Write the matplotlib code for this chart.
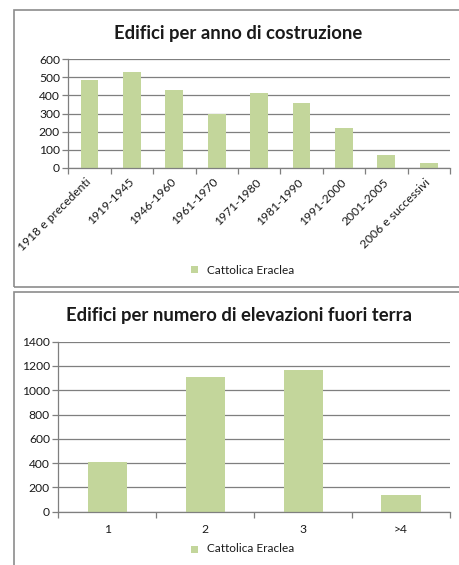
import matplotlib
matplotlib.use("Agg")
import matplotlib.pyplot as plt
from matplotlib.patches import Rectangle
from matplotlib.ticker import FixedLocator, MultipleLocator

plt.rcParams['font.family'] = ['Lato', 'DejaVu Sans']

# ---- data ----
anni_labels = ["1918 e precedenti", "1919-1945", "1946-1960", "1961-1970",
               "1971-1980", "1981-1990", "1991-2000", "2001-2005", "2006 e successivi"]
anni_values = [485, 531, 430, 295, 412, 360, 221, 70, 28]

elev_labels = ["1", "2", "3", ">4"]
elev_values = [410, 1108, 1167, 140]

series_name = "Cattolica Eraclea"
title1 = "Edifici per anno di costruzione"
title2 = "Edifici per numero di elevazioni fuori terra"

BAR = "#c3d69b"
GRID = "#7f7f7f"
TXT = "#1a1a1a"

W, H = 460, 565
fig = plt.figure(figsize=(W / 100, H / 100), dpi=100)
fig.patch.set_facecolor("white")

def fx(px):
    return px / W

def fy(py):
    return 1 - py / H

# panel borders
fig.add_artist(Rectangle((fx(14), fy(287)), fx(470), (287 - 10) / H, transform=fig.transFigure,
                         fill=False, edgecolor="#8c8c8c", linewidth=1.2))
fig.add_artist(Rectangle((fx(14), fy(580)), fx(470), (580 - 292) / H, transform=fig.transFigure,
                         fill=False, edgecolor="#8c8c8c", linewidth=1.2))


def style_axes(ax, ymax, ystep, n):
    ax.set_ylim(0, ymax)
    ax.set_xlim(-0.5, n - 0.5)
    ax.yaxis.set_major_locator(MultipleLocator(ystep))
    ax.grid(axis="y", color=GRID, linewidth=0.9)
    ax.set_axisbelow(True)
    for s in ("top", "right"):
        ax.spines[s].set_visible(False)
    for s in ("left", "bottom"):
        ax.spines[s].set_color(GRID)
        ax.spines[s].set_linewidth(0.9)
    ax.tick_params(axis="y", length=4, color=GRID, width=0.9, labelsize=8.7, labelcolor=TXT, pad=2)
    ax.xaxis.set_minor_locator(FixedLocator([i - 0.5 for i in range(n + 1)]))
    ax.tick_params(axis="x", which="minor", length=4, color=GRID, width=0.9)
    ax.tick_params(axis="x", which="major", length=0, labelsize=8.7, labelcolor=TXT)


# ---- top chart ----
ax1 = fig.add_axes([fx(68.3), fy(167.7), (450 - 68.3) / W, (167.7 - 59.3) / H])
x1 = list(range(len(anni_labels)))
ax1.bar(x1, anni_values, width=0.42, color=BAR, zorder=2)
style_axes(ax1, 600, 100, len(anni_labels))
ax1.set_xticks(x1)
ax1.set_xticklabels(anni_labels, rotation=45, ha="right", va="center", rotation_mode="anchor")
ax1.tick_params(axis="x", which="major", pad=9)
for lab in ax1.get_xticklabels():
    lab.set_x(lab.get_position()[0])
fig.text(fx(238), fy(33), title1, ha="center", va="center", fontsize=13.3, fontweight="bold", color=TXT)

# legend top
fig.add_artist(Rectangle((fx(191), fy(273.5)), fx(7), 7 / H, transform=fig.transFigure,
                         facecolor=BAR, edgecolor="none"))
fig.text(fx(207), fy(270), series_name, ha="left", va="center", fontsize=8.5, color=TXT)

# ---- bottom chart ----
ax2 = fig.add_axes([fx(58.3), fy(511.7), (450 - 58.3) / W, (511.7 - 341.7) / H])
x2 = list(range(len(elev_labels)))
ax2.bar(x2, elev_values, width=0.40, color=BAR, zorder=2)
style_axes(ax2, 1400, 200, len(elev_labels))
ax2.set_xticks(x2)
ax2.set_xticklabels(elev_labels)
ax2.tick_params(axis="x", which="major", pad=9)
fig.text(fx(239), fy(316), title2, ha="center", va="center", fontsize=13.3, fontweight="bold", color=TXT)

fig.add_artist(Rectangle((fx(191), fy(552.5)), fx(7), 7 / H, transform=fig.transFigure,
                         facecolor=BAR, edgecolor="none"))
fig.text(fx(207), fy(549), series_name, ha="left", va="center", fontsize=8.5, color=TXT)

fig.savefig("out.png", dpi=100, facecolor="white")
